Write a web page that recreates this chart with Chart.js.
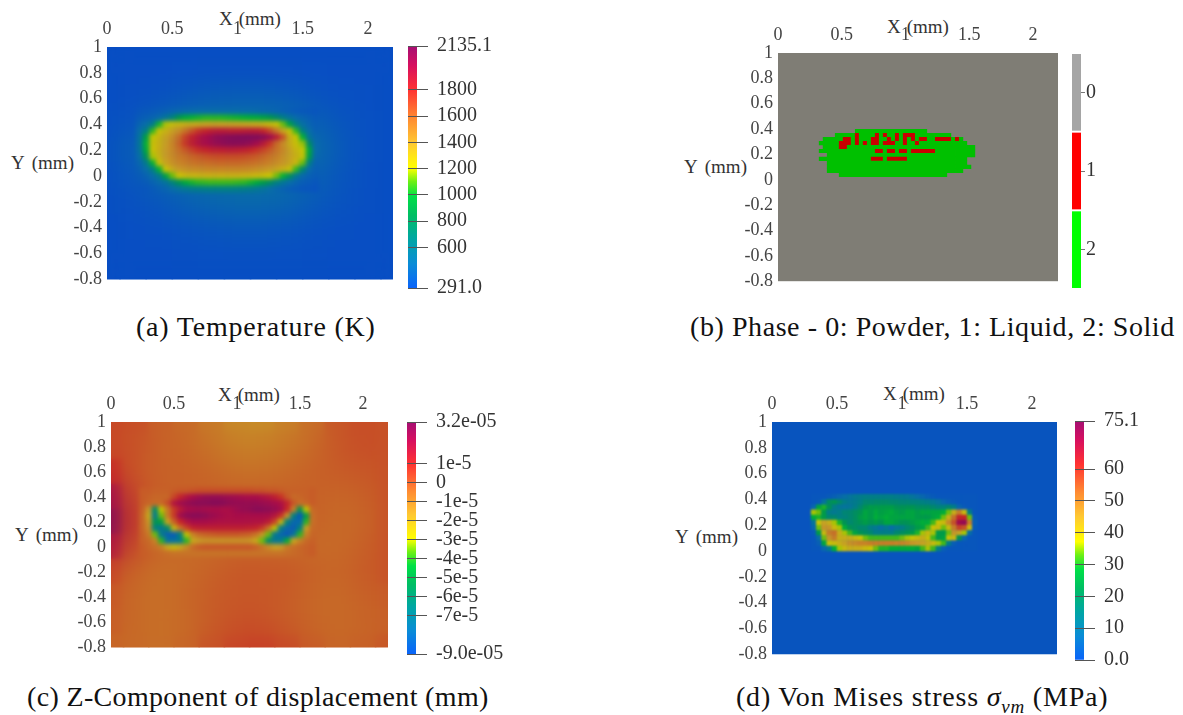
<!DOCTYPE html>
<html>
<head>
<meta charset="utf-8">
<script src="https://cdn.jsdelivr.net/npm/chart.js@4"></script>
<style>
  html, body { margin: 0; background: #fff; }
  #page { position: relative; width: 1183px; height: 715px; overflow: hidden; font-family: "Liberation Serif", serif; }
  canvas { position: absolute; }
  .lbl { position: absolute; color: #333; font-size: 19px; white-space: nowrap; transform: translateY(-50%); }
  .cap { position: absolute; color: #111; font-size: 28px; white-space: nowrap; transform: translateY(-50%); }
  .cap i { font-size: 28px; }
  .cap sub { font-size: 19px; font-style: italic; line-height: 0; }
</style>
</head>
<body>
<div id="page">
  <div class="lbl" style="left:219px;top:19px">X<span style="margin-left:6px">(mm)</span></div>
  <div class="lbl" style="left:11px;top:163px;word-spacing:3px">Y (mm)</div>
  <div class="lbl" style="left:887px;top:27px">X<span style="margin-left:6px">(mm)</span></div>
  <div class="lbl" style="left:684px;top:167px;word-spacing:3px">Y (mm)</div>
  <div class="lbl" style="left:218px;top:395px">X<span style="margin-left:6px">(mm)</span></div>
  <div class="lbl" style="left:15px;top:535px;word-spacing:3px">Y (mm)</div>
  <div class="lbl" style="left:883px;top:394px">X<span style="margin-left:6px">(mm)</span></div>
  <div class="lbl" style="left:675px;top:537px;word-spacing:3px">Y (mm)</div>
  <div class="cap" style="left:136px;top:327px;letter-spacing:.8px">(a) Temperature (K)</div>
  <div class="cap" style="left:690px;top:327px;letter-spacing:.57px">(b) Phase - 0: Powder, 1: Liquid, 2: Solid</div>
  <div class="cap" style="left:27px;top:697px;letter-spacing:.34px">(c) Z-Component of displacement (mm)</div>
  <div class="cap" style="left:736px;top:697px;letter-spacing:.8px">(d) Von Mises stress <i>σ</i><sub>vm</sub> (MPa)</div>
</div>
<script>
const xTicks = [0, 0.5, 1, 1.5, 2];
const yTicks = [1, 0.8, 0.6, 0.4, 0.2, 0, -0.2, -0.4, -0.6, -0.8];

// colour bar ticks
const tempTicks = [291, 600, 800, 1000, 1200, 1400, 1600, 1800, 2135.1];
const tempTickLabels = ['291.0', '600', '800', '1000', '1200', '1400', '1600', '1800', '2135.1'];
const dispTicks = [-9, -7, -6, -5, -4, -3, -2, -1, 0, 1, 3.2];
const dispTickLabels = ['-9.0e-05', '-7e-5', '-6e-5', '-5e-5', '-4e-5', '-3e-5', '-2e-5', '-1e-5', '0', '1e-5', '3.2e-05'];
const stressTicks = [0, 10, 20, 30, 40, 50, 60, 75.1];
const stressTickLabels = ['0.0', '10', '20', '30', '40', '50', '60', '75.1'];
const phaseLabels = ['0', '1', '2'];
const phaseColors = ['#a5a5a5', '#ff0000', '#00ff00'];

// coarse grid over the whole plate, 0.2 mm
const coarseX = [0, 0.2, 0.4, 0.6, 0.8, 1, 1.2, 1.4, 1.6, 1.8, 2, 2.2];
const coarseY = [1, 0.8, 0.6, 0.4, 0.2, 0, -0.2, -0.4, -0.6, -0.8];
// fine grid round the melt pool, 0.05 mm
const fineX = [0.25, 0.3, 0.35, 0.4, 0.45, 0.5, 0.55, 0.6, 0.65, 0.7, 0.75, 0.8, 0.85, 0.9, 0.95, 1, 1.05, 1.1, 1.15, 1.2, 1.25, 1.3, 1.35, 1.4, 1.45, 1.5, 1.55, 1.6];
const tempFineY = [0.5, 0.45, 0.4, 0.35, 0.3, 0.25, 0.2, 0.15, 0.1, 0.05, 0, -0.05, -0.1];
const dispFineY = [0.45, 0.4, 0.35, 0.3, 0.25, 0.2, 0.15, 0.1, 0.05, 0, -0.05];

// temperature, K
const tempCoarse = [
  [291, 291, 291, 291, 291, 291, 291, 291, 291, 291, 291, 291],
  [291, 291, 292, 294, 296, 298, 298, 296, 294, 292, 291, 291],
  [291, 295, 310, 340, 370, 380, 380, 360, 320, 300, 295, 291],
  [300, 320, 400, 460, 480, 480, 480, 460, 400, 330, 300, 291],
  [310, 380, 480, 520, 540, 540, 540, 520, 480, 350, 300, 291],
  [300, 340, 420, 480, 500, 500, 500, 470, 400, 330, 295, 291],
  [295, 310, 340, 400, 430, 450, 450, 420, 360, 320, 295, 291],
  [291, 295, 305, 320, 335, 345, 345, 330, 310, 296, 291, 291],
  [291, 291, 293, 297, 300, 305, 305, 300, 295, 292, 291, 291],
  [291, 291, 291, 291, 291, 291, 291, 291, 291, 291, 291, 291]
];
const tempFine = [
  [340, 350, 360, 380, 400, 420, 440, 450, 460, 470, 470, 470, 470, 470, 470, 470, 460, 460, 450, 440, 430, 420, 400, 380, 360, 350, 340, 330],
  [370, 390, 420, 470, 560, 680, 860, 960, 1000, 1020, 1040, 1040, 1040, 1030, 1020, 1010, 1000, 980, 960, 920, 860, 760, 640, 540, 460, 420, 390, 360],
  [420, 480, 620, 1020, 1180, 1250, 1290, 1320, 1340, 1350, 1370, 1380, 1380, 1380, 1380, 1370, 1360, 1350, 1340, 1310, 1270, 1220, 1120, 900, 640, 500, 420, 380],
  [480, 640, 1050, 1230, 1300, 1380, 1450, 1560, 1660, 1760, 1820, 1860, 1880, 1880, 1860, 1860, 1870, 1880, 1870, 1820, 1700, 1540, 1360, 1230, 1050, 660, 480, 400],
  [520, 900, 1200, 1290, 1370, 1460, 1580, 1720, 1840, 1920, 1980, 2030, 2080, 2100, 2120, 2130, 2135, 2135, 2130, 2100, 2020, 1880, 1660, 1320, 1200, 1000, 560, 430],
  [540, 1000, 1240, 1310, 1390, 1490, 1610, 1750, 1860, 1930, 1980, 2020, 2060, 2090, 2100, 2100, 2090, 2060, 2000, 1900, 1760, 1600, 1470, 1340, 1240, 1160, 760, 460],
  [520, 950, 1230, 1320, 1400, 1480, 1570, 1650, 1720, 1780, 1820, 1850, 1860, 1870, 1880, 1870, 1850, 1820, 1770, 1710, 1640, 1560, 1480, 1380, 1290, 1210, 950, 470],
  [480, 800, 1180, 1300, 1400, 1470, 1530, 1570, 1610, 1640, 1660, 1680, 1690, 1690, 1690, 1690, 1680, 1660, 1640, 1600, 1560, 1510, 1450, 1380, 1310, 1220, 900, 450],
  [430, 600, 1000, 1240, 1360, 1440, 1490, 1520, 1550, 1570, 1580, 1590, 1600, 1600, 1600, 1600, 1590, 1580, 1560, 1530, 1500, 1460, 1420, 1360, 1280, 1120, 640, 410],
  [400, 480, 640, 1000, 1220, 1340, 1410, 1440, 1460, 1470, 1480, 1490, 1490, 1490, 1490, 1490, 1480, 1470, 1450, 1430, 1400, 1360, 1310, 1240, 1060, 720, 460, 390],
  [370, 410, 480, 600, 900, 1120, 1220, 1270, 1290, 1300, 1310, 1310, 1310, 1310, 1310, 1310, 1300, 1290, 1270, 1250, 1210, 1130, 1000, 800, 580, 450, 400, 370],
  [350, 370, 410, 460, 530, 680, 820, 950, 1020, 1050, 1060, 1070, 1070, 1070, 1070, 1060, 1050, 1020, 960, 880, 780, 660, 560, 480, 420, 380, 360, 340],
  [330, 340, 360, 390, 420, 470, 520, 570, 600, 620, 630, 640, 640, 640, 640, 630, 620, 600, 570, 530, 480, 440, 410, 380, 360, 340, 330, 320]
];

// z displacement, in 1e-5 mm
const dispCoarse = [
  [0.3, 0.2, -0.2, -0.4, -0.8, -1.2, -1.3, -1.0, -0.5, 0, 0.2, 0.1],
  [0.3, 0.1, -0.2, -0.3, -0.6, -0.9, -0.9, -0.7, -0.4, 0, 0.2, 0.1],
  [1.0, 0.0, -0.2, -0.2, -0.3, -0.5, -0.5, -0.4, -0.2, -0.1, 0, 0.1],
  [2.4, 0.3, -0.2, -0.2, -0.2, -0.2, -0.2, -0.2, -0.2, -0.3, -0.2, 0.1],
  [3.2, 0.6, -0.2, -0.2, -0.2, -0.2, -0.2, -0.2, -0.2, -0.4, -0.3, 0.1],
  [2.0, 0.2, -0.3, -0.4, -0.4, -0.3, -0.3, -0.4, -0.4, -0.4, -0.2, 0.1],
  [0.4, -0.3, -0.5, -0.4, -0.2, 0, 0, 0, -0.2, -0.3, -0.1, 0.1],
  [0, -0.4, -0.5, -0.3, -0.1, 0, 0, -0.1, -0.3, -0.4, -0.2, -0.1],
  [-0.1, -0.4, -0.5, -0.4, -0.1, 0.1, 0.1, -0.1, -0.3, -0.4, -0.3, -0.2],
  [-0.3, -0.4, -0.5, -0.3, 0.1, 0.4, 0.5, 0.3, -0.1, -0.3, -0.2, 0]
];
const dispFine = [
  [-0.1, -0.1, -0.2, -0.2, -0.2, -0.1, 0, 0, 0.1, 0.2, 0.2, 0.2, 0.2, 0.2, 0.2, 0.2, 0.2, 0.2, 0.1, 0.1, 0, 0, -0.1, -0.2, -0.2, -0.2, -0.2, -0.1],
  [-0.1, -0.2, -0.3, -0.3, -0.3, 0.4, 1.2, 1.8, 2.2, 2.5, 2.7, 2.7, 2.7, 2.6, 2.5, 2.4, 2.3, 2.2, 2.2, 2.0, 1.8, 1.4, 0.8, 0, -0.4, -0.3, -0.2, -0.1],
  [-0.1, -0.3, -0.4, -0.4, 0.2, 1.8, 2.4, 2.7, 2.9, 3.0, 3.0, 3.1, 3.1, 3.0, 2.8, 2.7, 2.7, 2.7, 2.7, 2.6, 2.5, 2.3, 2.0, 1.2, 0, -0.5, -0.3, -0.1],
  [-0.2, -1.5, -6.0, -3.0, -0.8, 0.6, 1.6, 2.2, 2.3, 2.4, 2.3, 2.2, 2.2, 2.1, 2.2, 2.5, 2.7, 2.8, 3.0, 3.0, 2.9, 2.7, 2.3, 1.0, -1.0, -5.5, -3.0, -0.4],
  [-0.3, -2.0, -7.0, -3.5, -0.9, 0.6, 2.4, 2.9, 3.0, 3.0, 2.9, 2.6, 2.4, 2.2, 2.1, 2.2, 2.2, 2.2, 2.2, 2.2, 2.2, 1.8, 0.8, -1.5, -6.5, -8.6, -5.0, -0.5],
  [-0.3, -1.5, -5.5, -5.0, -2.0, -0.2, 1.0, 1.8, 2.2, 2.2, 2.2, 2.1, 2.0, 2.0, 2.0, 2.0, 2.0, 2.0, 1.9, 1.9, 1.5, 0.4, -2.5, -6.5, -8.0, -8.0, -4.0, -0.5],
  [-0.3, -1.2, -6.5, -7.2, -6.0, -2.5, -0.6, 0.4, 1.2, 1.4, 1.4, 1.4, 1.4, 1.4, 1.4, 1.4, 1.4, 1.3, 1.2, 0.6, -0.5, -3.0, -6.8, -8.0, -8.4, -6.5, -1.8, -0.4],
  [-0.2, -0.8, -3.5, -7.0, -8.2, -8.4, -6.5, -3.0, -1.0, -0.4, -0.2, -0.1, 0, 0, 0, 0, -0.1, -0.2, -0.6, -1.5, -3.5, -7.0, -8.0, -8.6, -7.5, -4.0, -1.0, -0.3],
  [-0.2, -0.4, -1.0, -4.0, -7.4, -7.6, -7.0, -4.0, -2.0, -1.6, -1.4, -1.4, -1.4, -1.4, -1.4, -1.4, -1.4, -1.5, -2.0, -3.5, -6.0, -7.2, -7.0, -4.5, -2.0, -1.0, -0.4, -0.2],
  [-0.1, -0.3, -0.5, -0.9, -2.0, -2.5, -2.0, -1.2, -0.4, -0.1, 0, 0, 0, 0, 0, 0, 0, 0, -0.2, -0.6, -1.2, -1.8, -1.6, -0.8, -0.5, -0.3, -0.2, -0.1],
  [-0.1, -0.2, -0.3, -0.4, -0.5, -0.6, -0.6, -0.6, -0.6, -0.6, -0.6, -0.6, -0.6, -0.6, -0.6, -0.6, -0.6, -0.6, -0.6, -0.6, -0.6, -0.6, -0.6, -0.5, -0.4, -0.3, -0.2, -0.1]
];

// phase per cell: 0 powder, 1 liquid, 2 solid
const phaseX = [0.337, 0.368, 0.4, 0.431, 0.463, 0.494, 0.525, 0.557, 0.588, 0.62, 0.651, 0.682, 0.714, 0.745, 0.777, 0.808, 0.839, 0.871, 0.902, 0.934, 0.965, 0.996, 1.028, 1.059, 1.091, 1.122, 1.153, 1.185, 1.216, 1.248, 1.279, 1.31, 1.342, 1.373, 1.405, 1.436, 1.467, 1.499, 1.53];
const phaseY = [0.383, 0.352, 0.32, 0.289, 0.258, 0.227, 0.195, 0.164, 0.133, 0.102, 0.07, 0.039];
const phaseRows = [
  '000000000222222222222222222000000000000',
  '000022222122221212212111222222222000000',
  '022222112122211221212121211221111212000',
  '222221112121211211122122122222222222200',
  '022221122222222222222222222222222222222',
  '222222222222221121121121111112222222222',
  '002222222222222222222222222222222222222',
  '222222222222211121111122222222222222200',
  '002222222222222222222222222222222222200',
  '002222222222222222222222222222222222220',
  '002222222222222222222222222222222222000',
  '000002222222222222222222222222220000000'
];

// von Mises stress, MPa
const stressX = [0.32, 0.36, 0.4, 0.44, 0.48, 0.52, 0.56, 0.6, 0.64, 0.68, 0.72, 0.76, 0.8, 0.84, 0.88, 0.92, 0.96, 1, 1.04, 1.08, 1.12, 1.16, 1.2, 1.24, 1.28, 1.32, 1.36, 1.4, 1.44, 1.48, 1.52, 1.56];
const stressY = [0.42, 0.38, 0.34, 0.3, 0.26, 0.22, 0.18, 0.14, 0.1, 0.06, 0.02];
const stressRows = [
  [2, 2, 2, 3, 4, 6, 8, 10, 12, 13, 14, 14, 14, 14, 14, 14, 13, 13, 12, 10, 8, 6, 4, 3, 2, 2, 2, 2, 2, 2, 2, 2],
  [2, 3, 10, 20, 22, 18, 14, 12, 13, 15, 18, 18, 19, 19, 19, 18, 18, 17, 17, 16, 16, 15, 14, 12, 10, 6, 4, 3, 2, 2, 2, 2],
  [6, 26, 30, 22, 14, 11, 10, 11, 14, 18, 22, 24, 24, 24, 24, 24, 22, 22, 22, 22, 20, 20, 20, 18, 16, 16, 18, 14, 6, 3, 2, 2],
  [36, 34, 24, 14, 12, 14, 17, 18, 20, 22, 26, 24, 27, 25, 26, 27, 25, 24, 26, 26, 24, 26, 26, 26, 26, 28, 34, 42, 50, 40, 14, 2],
  [28, 30, 24, 18, 18, 15, 16, 18, 20, 24, 26, 24, 28, 26, 28, 26, 26, 26, 26, 26, 24, 24, 24, 26, 28, 34, 42, 52, 62, 62, 34, 3],
  [10, 38, 44, 42, 36, 30, 22, 18, 20, 22, 24, 22, 24, 22, 26, 26, 24, 22, 22, 24, 26, 28, 28, 32, 38, 40, 48, 56, 70, 72, 50, 4],
  [6, 34, 46, 46, 40, 36, 28, 22, 20, 18, 18, 14, 12, 9, 12, 8, 12, 14, 18, 20, 24, 26, 32, 38, 40, 34, 40, 50, 58, 56, 40, 3],
  [3, 24, 40, 50, 52, 42, 36, 32, 26, 22, 20, 18, 14, 14, 14, 14, 18, 20, 22, 24, 30, 36, 40, 36, 24, 24, 34, 46, 44, 36, 8, 2],
  [2, 8, 34, 46, 50, 42, 42, 42, 40, 38, 34, 32, 32, 32, 32, 32, 32, 34, 36, 38, 40, 42, 38, 32, 24, 26, 38, 40, 22, 6, 2, 2],
  [2, 4, 26, 38, 40, 42, 44, 47, 48, 49, 49, 50, 50, 50, 50, 50, 49, 49, 48, 46, 45, 44, 42, 40, 36, 32, 14, 4, 2, 2, 2, 2],
  [2, 2, 6, 12, 28, 36, 40, 42, 42, 42, 40, 38, 34, 30, 30, 28, 28, 28, 28, 28, 26, 32, 36, 32, 14, 4, 2, 2, 2, 2, 2, 2]
];

// colour map
const mapStops = [
  [0, 10, 100, 250], [0.1, 10, 140, 215], [0.2, 0, 165, 165], [0.3, 0, 190, 100],
  [0.38, 0, 225, 70], [0.44, 110, 240, 20], [0.495, 255, 255, 0], [0.6, 255, 200, 50],
  [0.7, 255, 140, 50], [0.82, 255, 50, 50], [0.92, 215, 15, 95], [1, 165, 15, 115]
];
const SHADE = 0.78; // the field is lit, the colour bar is not

function mapColor(t, shade) {
  t = Math.min(1, Math.max(0, t));
  let i = 0;
  while (i < mapStops.length - 2 && t > mapStops[i + 1][0]) i++;
  const a = mapStops[i], b = mapStops[i + 1];
  const f = (t - a[0]) / (b[0] - a[0]);
  const c = [1, 2, 3].map(k => Math.round((a[k] + (b[k] - a[k]) * f) * shade));
  return `rgb(${c[0]},${c[1]},${c[2]})`;
}

function toCells(xs, ys, rows) {
  const cells = [];
  ys.forEach((y, r) => xs.forEach((x, c) => {
    const v = typeof rows[r] === 'string' ? Number(rows[r][c]) : rows[r][c];
    cells.push({ x, y, v });
  }));
  return cells;
}

function cellSet(cells, step, blur, colorOf) {
  return {
    data: cells,
    step,
    blur,
    showLine: false,
    pointStyle: 'rect',
    pointBorderWidth: 0,
    pointHoverRadius: 0,
    pointBackgroundColor: c => colorOf(c.raw.v),
    // a rect point has side radius * sqrt(2)
    pointRadius: c => {
      const sx = c.chart.scales.x;
      return Math.abs(sx.getPixelForValue(step) - sx.getPixelForValue(0)) * Math.SQRT1_2 * 1.06;
    }
  };
}

const fieldPlugin = {
  id: 'field',
  beforeDatasetsDraw(chart, args, opts) {
    const { ctx, chartArea: a } = chart;
    ctx.save();
    ctx.fillStyle = opts.base;
    ctx.fillRect(a.left, a.top, a.width, a.height);
    ctx.restore();
  },
  // soften each layer once its cells are down
  afterDatasetDraw(chart, args) {
    const blur = chart.data.datasets[args.index].blur;
    if (!blur) return;
    const { ctx, canvas, chartArea: a } = chart;
    ctx.save();
    ctx.beginPath();
    ctx.rect(a.left, a.top, a.width, a.height);
    ctx.clip();
    ctx.filter = `blur(${blur}px)`;
    ctx.drawImage(canvas, a.left, a.top, a.width, a.height, a.left, a.top, a.width, a.height);
    ctx.restore();
  }
};

const page = document.getElementById('page');
function addCanvas(left, top, width, height) {
  const cv = document.createElement('canvas');
  cv.width = width;
  cv.height = height;
  cv.style.left = left + 'px';
  cv.style.top = top + 'px';
  page.appendChild(cv);
  return cv.getContext('2d');
}

const TOP = 40, LEFT = 75, BOTTOM = 14;
function fieldChart(box, base, datasets) {
  const ctx = addCanvas(box.left - LEFT, box.top - TOP, box.width + LEFT, box.height + TOP + BOTTOM);
  const tickFont = { family: 'Liberation Serif', size: 18 };
  return new Chart(ctx, {
    type: 'scatter',
    data: { datasets },
    plugins: [fieldPlugin],
    options: {
      responsive: false,
      animation: false,
      events: [],
      layout: { padding: { bottom: BOTTOM } },
      plugins: { legend: { display: false }, tooltip: { enabled: false }, field: { base } },
      scales: {
        x: {
          type: 'linear', position: 'top', min: 0, max: box.width / box.scale,
          grid: { display: false, drawTicks: false }, border: { display: false },
          afterBuildTicks: s => { s.ticks = xTicks.map(value => ({ value })); },
          afterFit: s => { s.height = TOP; },
          ticks: { color: '#444', font: tickFont, padding: 7, maxRotation: 0, autoSkip: false, callback: v => String(v) }
        },
        y: {
          type: 'linear', min: -0.8, max: 1,
          grid: { display: false, drawTicks: false }, border: { display: false },
          afterBuildTicks: s => { s.ticks = yTicks.map(value => ({ value })); },
          afterFit: s => { s.width = LEFT; },
          ticks: { color: '#444', font: tickFont, padding: 5, autoSkip: false, callback: v => String(v) }
        }
      }
    }
  });
}

const BAR_W = 9, BAR_PAD = 14, BAR_RIGHT = 100;
function barOptions(box, yScale, xScale) {
  return {
    responsive: false,
    animation: false,
    events: [],
    layout: { padding: { top: BAR_PAD, bottom: BAR_PAD } },
    plugins: { legend: { display: false }, tooltip: { enabled: false } },
    scales: {
      x: xScale,
      y: Object.assign({
        position: 'right',
        border: { display: false },
        grid: { drawOnChartArea: true, z: 1, color: '#555', tickLength: 11 },
        afterFit: s => { s.width = BAR_RIGHT; s.paddingTop = 0; s.paddingBottom = 0; }
      }, yScale)
    }
  };
}

function colorBar(box, ticks, labels) {
  const min = ticks[0], max = ticks[ticks.length - 1];
  const ctx = addCanvas(box.left, box.top - BAR_PAD, BAR_W + BAR_RIGHT, box.height + BAR_PAD * 2);
  return new Chart(ctx, {
    type: 'bar',
    data: {
      labels: [''],
      datasets: [{
        data: [[min, max]],
        barPercentage: 1,
        categoryPercentage: 1,
        backgroundColor: c => {
          const area = c.chart.chartArea;
          if (!area) return '#000';
          const g = c.chart.ctx.createLinearGradient(0, area.bottom, 0, area.top);
          for (const s of mapStops) g.addColorStop(s[0], mapColor(s[0], 1));
          return g;
        }
      }]
    },
    options: barOptions(box, {
      type: 'linear', min, max,
      afterBuildTicks: s => { s.ticks = ticks.map(value => ({ value })); },
      ticks: {
        color: '#333', padding: 9, autoSkip: false,
        font: { family: 'Liberation Serif', size: 20 },
        callback: v => labels[ticks.indexOf(v)]
      }
    }, { display: false })
  });
}

function phaseBar(box) {
  const ctx = addCanvas(box.left, box.top - BAR_PAD, BAR_W + BAR_RIGHT, box.height + BAR_PAD * 2);
  return new Chart(ctx, {
    type: 'bar',
    data: {
      labels: phaseLabels,
      datasets: [{
        data: [[0, 1], [0, 1], [0, 1]],
        backgroundColor: phaseColors,
        barPercentage: 0.975,
        categoryPercentage: 1
      }]
    },
    options: Object.assign(barOptions(box, {
      type: 'category',
      grid: { drawOnChartArea: false, offset: false, color: '#777', tickLength: 4 },
      ticks: { color: '#333', padding: 1, font: { family: 'Liberation Serif', size: 20 } }
    }, { display: false, min: 0, max: 1 }), { indexAxis: 'y' })
  });
}

const tempColor = v => mapColor((v - 291) / (2135.1 - 291), SHADE);
const dispColor = v => mapColor((v + 9) / 12.2, SHADE);
const stressColor = v => mapColor(v / 75.1, SHADE);
const phaseColor = v => v === 0 ? 'rgba(0,0,0,0)' : (v === 1 ? '#c80000' : '#00c000');

// the first dataset is drawn last, so the fine layer goes first
fieldChart({ left: 107, top: 47, width: 286, height: 234, scale: 130.5 }, tempColor(291), [
  cellSet(toCells(fineX, tempFineY, tempFine), 0.05, 2.2, tempColor),
  cellSet(toCells(coarseX, coarseY, tempCoarse), 0.2, 12, tempColor)
]);
colorBar({ left: 408, top: 46, height: 242 }, tempTicks, tempTickLabels);

fieldChart({ left: 778, top: 53, width: 280, height: 230, scale: 127.5 }, '#7f7d75', [
  cellSet(toCells(phaseX, phaseY, phaseRows), 0.0314, 0.6, phaseColor)
]);
phaseBar({ left: 1072, top: 53, height: 236 });

fieldChart({ left: 111, top: 422, width: 277, height: 227, scale: 126 }, dispColor(-0.2), [
  cellSet(toCells(fineX, dispFineY, dispFine), 0.05, 2.2, dispColor),
  cellSet(toCells(coarseX, coarseY, dispCoarse), 0.2, 12, dispColor)
]);
colorBar({ left: 407, top: 422, height: 232 }, dispTicks, dispTickLabels);

fieldChart({ left: 772, top: 422, width: 285, height: 234, scale: 130 }, stressColor(1.5), [
  cellSet(toCells(stressX, stressY, stressRows), 0.04, 1, stressColor)
]);
colorBar({ left: 1075, top: 421, height: 239 }, stressTicks, stressTickLabels);
</script>
</body>
</html>
